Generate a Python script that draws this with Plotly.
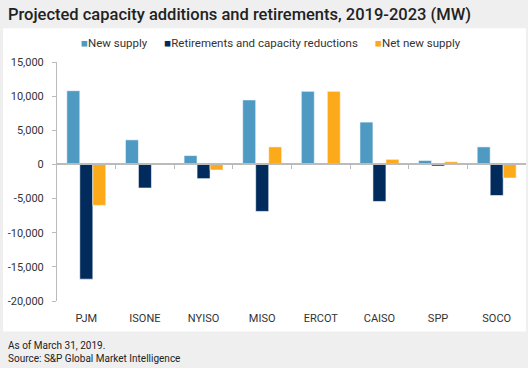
import plotly.graph_objects as go

categories = ["PJM", "ISONE", "NYISO", "MISO", "ERCOT", "CAISO", "SPP", "SOCO"]
new_supply = [10800, 3600, 1300, 9450, 10700, 6200, 580, 2570]
retirements = [-16800, -3450, -2080, -6880, 0, -5420, -230, -4550]
net_new = [-6000, 200, -820, 2570, 10700, 750, 400, -1990]
ytick_vals = [15000, 10000, 5000, 0, -5000, -10000, -15000, -20000]
ytick_labels = ["15,000", "10,000", "5,000", "0", "-5,000", "-10,000", "-15,000", "-20,000"]
series_names = ["New supply", "Retirements and capacity reductions", "Net new supply"]
series_colors = ["#4f9ac3", "#002b5c", "#fdaa1a"]

FONT = "Roboto"
line = dict(color="rgba(255,255,255,0.7)", width=0.8)
fig = go.Figure()
for name, vals, col in zip(series_names, [new_supply, retirements, net_new], series_colors):
    fig.add_bar(x=categories, y=vals, name=name, marker=dict(color=col, line=line), showlegend=False)

# zero-line axis with boundary ticks
fig.add_scatter(x=[None], y=[None], xaxis="x2", showlegend=False, hoverinfo="skip")

legend_text = "&nbsp;&nbsp;&nbsp;&nbsp;&nbsp;&nbsp;".join(
    f'<span style="color:{c}">■</span>{n}' for n, c in zip(series_names, series_colors))

fig.update_layout(
    width=528, height=368,
    margin=dict(l=57, r=2, t=62, b=67),
    paper_bgcolor="#efefef", plot_bgcolor="white",
    barmode="group", bargap=0.335, bargroupgap=0,
    font=dict(family=FONT, size=11, color="#333333"),
    title=dict(text="Projected capacity additions and retirements, 2019-2023 (MW)",
               x=0.015, xanchor="left", y=0.96, yanchor="middle",
               font=dict(family=FONT, size=16.5, color="#222222", weight=500)),
    showlegend=False,
    xaxis=dict(type="category", showline=False, ticks="outside", ticklen=7, tickcolor="rgba(0,0,0,0)",
               showgrid=False, zeroline=False, tickfont=dict(size=11, color="#333333")),
    xaxis2=dict(overlaying="x", anchor="free", position=20000/35000, range=[-0.5, 7.5],
                tickvals=[0.5, 1.5, 2.5, 3.5, 4.5, 5.5, 6.5], showticklabels=False,
                ticks="outside", ticklen=4, tickcolor="#bbbbbb", showline=True, linecolor="#bbbbbb",
                linewidth=1.5, showgrid=False, zeroline=False),
    yaxis=dict(range=[-20000, 15000], tickvals=ytick_vals, ticktext=ytick_labels,
               showgrid=False, zeroline=False, showline=True, linecolor="#bbbbbb", linewidth=1,
               ticks="outside", ticklen=4, tickcolor="#bbbbbb", ticklabelstandoff=6,
               tickfont=dict(size=11, color="#333333")),
    shapes=[dict(type="rect", xref="paper", yref="paper", x0=-0.115, x1=1.0, y0=-0.128, y1=1.141,
                 fillcolor="white", line=dict(width=0), layer="below")],
    annotations=[
        dict(text=legend_text, xref="paper", yref="paper", x=0.456, y=1.078, xanchor="center",
             yanchor="middle", showarrow=False, font=dict(family=FONT, size=11.5, color="#333333")),
        dict(text="As of March 31, 2019.<br>Source: S&P Global Market Intelligence", xref="paper", yref="paper",
             x=-0.109, y=-0.155, xanchor="left", yanchor="top", align="left", showarrow=False,
             font=dict(family=FONT, size=10, color="#222222")),
    ],
)
fig.write_html("out.html", config={"displayModeBar": False},
               post_script="document.body.style.margin='0';")
